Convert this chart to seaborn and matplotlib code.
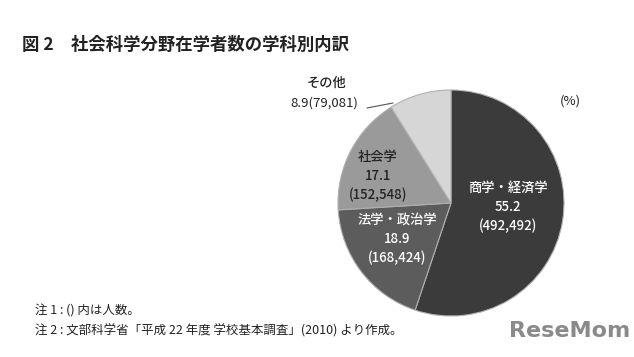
import matplotlib
matplotlib.use("Agg")
import matplotlib.pyplot as plt
import seaborn as sns

# data
categories = ["商学・経済学", "法学・政治学", "社会学", "その他"]
shares = [55.2, 18.9, 17.1, 8.9]
counts = ["492,492", "168,424", "152,548", "79,081"]
slice_colors = ["#3b3b3b", "#5c5c5c", "#9a9a9a", "#d6d6d6"]

sns.set_theme(style="white")
plt.rcParams['font.family'] = ['Noto Sans CJK JP', 'DejaVu Sans']

W, H = 634, 357
fig = plt.figure(figsize=(W / 100, H / 100), dpi=100)
ax = fig.add_axes([0, 0, 1, 1])

# pie in pixel-like units (y measured from bottom)
cx, cy, r = 451, H - 203, 113
ax.pie(shares, colors=slice_colors, startangle=90, counterclock=False,
       center=(cx, cy), radius=r, frame=True,
       wedgeprops=dict(edgecolor="#b0b0b0", linewidth=0.8))
ax.set_xlim(0, W)
ax.set_ylim(0, H)
ax.set_aspect("equal")
ax.axis("off")

def py(y):
    return H - y

# in-slice labels: (x, y of first line, text colour)
inside = {0: (508, 188, "white"), 1: (397, 220, "white"), 2: (378, 157, "#222222")}
for i, (x, y, c) in inside.items():
    ax.text(x, py(y), categories[i], ha="center", va="center", fontsize=9.5,
            fontweight="medium", color=c)
    ax.text(x, py(y + 19), f"{shares[i]}", ha="center", va="center", fontsize=9.5,
            fontweight="medium", color=c)
    ax.text(x, py(y + 38), f"({counts[i]})", ha="center", va="center", fontsize=9.5,
            fontweight="medium", color=c)

# outside label for the small slice
ax.text(327, py(83), categories[3], ha="center", va="center", fontsize=9.5,
        fontweight="medium", color="#222222")
ax.text(324, py(103), f"{shares[3]}({counts[3]})", ha="center", va="center",
        fontsize=9.5, color="#222222")
ax.plot([367, 393], [py(108), py(103)], color="#555555", lw=0.8)

ax.text(570, py(101), "(%)", ha="center", va="center", fontsize=9.5, color="#222222")

fig.text(22 / W, 1 - 45 / H, "図 2　社会科学分野在学者数の学科別内訳",
         ha="left", va="center", fontsize=12.5, fontweight="bold", color="#222222")
fig.text(35 / W, 1 - 311 / H, "注 1 : () 内は人数。", ha="left", va="center",
         fontsize=9, color="#222222")
fig.text(35 / W, 1 - 331 / H, "注 2 : 文部科学省「平成 22 年度 学校基本調査」(2010) より作成。",
         ha="left", va="center", fontsize=9, color="#222222")
fig.text(570 / W, 1 - 331 / H, "ReseMom", ha="center", va="center",
         fontsize=16, fontweight="bold", color="#8a8a8a", family=["DejaVu Sans"])

fig.savefig("out.png", dpi=100)
